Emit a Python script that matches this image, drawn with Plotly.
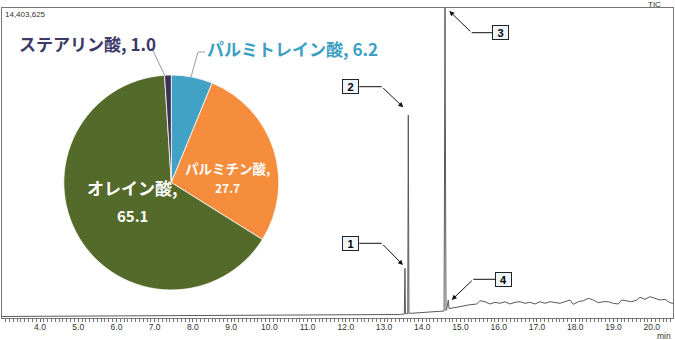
import plotly.graph_objects as go

# ---------------- data ----------------
FULL_SCALE = 14403625

time_min = [3.006, 6.0, 9.0, 12.0, 13.40, 13.53, 13.547, 13.56, 13.62, 13.634, 13.65,
            13.70, 14.0, 14.40, 14.57, 14.594, 14.62, 14.64, 14.68, 14.70,
            14.725, 14.986, 15.195, 15.423, 15.509, 15.640, 15.771, 15.902, 16.033,
            16.163, 16.294, 16.425, 16.556, 16.686, 16.817, 16.948, 17.079, 17.209,
            17.340, 17.471, 17.602, 17.733, 17.863, 17.950, 18.081, 18.212, 18.342,
            18.473, 18.604, 18.735, 18.865, 18.996, 19.127, 19.216, 19.347, 19.478,
            19.608, 19.695, 19.826, 19.956, 20.087, 20.218, 20.349, 20.479, 20.558]
tic = [70000, 93000, 102000, 139000, 163000, 186000, 2309000, 200000, 200000, 9432000, 220000,
       218000, 255000, 293000, 325000, 14403625, 350000, 418000, 836000, 441000,
       451000, 525000, 604000, 650000, 804000, 757000, 650000, 729000, 683000,
       757000, 650000, 729000, 757000, 683000, 729000, 650000, 757000, 683000,
       757000, 729000, 683000, 757000, 836000, 637000, 757000, 804000, 915000,
       836000, 711000, 757000, 757000, 683000, 650000, 836000, 804000, 757000,
       836000, 962000, 869000, 990000, 915000, 836000, 869000, 711000, 683000]

peak_labels = ["1", "2", "3", "4"]

fatty_acids = ["パルミトレイン酸", "パルミチン酸", "オレイン酸", "ステアリン酸"]
percent = [6.2, 27.7, 65.1, 1.0]
pie_colors = ["#41A2C5", "#F58D3D", "#546A2B", "#3A2F55"]

x_ticks = [4.0, 5.0, 6.0, 7.0, 8.0, 9.0, 10.0, 11.0, 12.0, 13.0, 14.0, 15.0, 16.0, 17.0, 18.0, 19.0, 20.0]

# ---------------- layout helpers (pixel -> paper) ----------------
W, H = 675, 340
L, R, T, B = 2, 673, 8, 318


def px(p):
    return (p - L) / (R - L)


def py(p):
    return (B - p) / (B - T)


JP = "Noto Sans CJK JP"
AX = "Liberation Sans"

fig = go.Figure()

fig.add_trace(go.Scatter(x=time_min, y=tic, mode="lines",
                         line=dict(color="#5a5a5a", width=1), hoverinfo="skip",
                         showlegend=False))

fig.add_trace(go.Pie(labels=fatty_acids, values=percent, sort=False,
                     direction="clockwise", rotation=0,
                     marker=dict(colors=pie_colors, line=dict(color="white", width=0.8)),
                     textinfo="none", hoverinfo="skip", showlegend=False,
                     domain=dict(x=[px(63.3), px(279.3)], y=[py(290), py(75)])))

ann = []
shapes = []

# pie labels
ann.append(dict(x=px(87), y=py(43), xref="paper", yref="paper", showarrow=False,
                text=f"<b>{fatty_acids[3]}, {percent[3]:.1f}</b>",
                font=dict(family=JP, size=17, color="#3C3868"), xanchor="center", yanchor="middle"))
ann.append(dict(x=px(292), y=py(49), xref="paper", yref="paper", showarrow=False,
                text=f"<b>{fatty_acids[0]}, {percent[0]:.1f}</b>",
                font=dict(family=JP, size=17, color="#3B9FC4"), xanchor="center", yanchor="middle"))
ann.append(dict(x=px(227), y=py(168), xref="paper", yref="paper", showarrow=False,
                text=f"<b>{fatty_acids[1]},</b>",
                font=dict(family=JP, size=13.5, color="white"), xanchor="center", yanchor="middle"))
ann.append(dict(x=px(227), y=py(188), xref="paper", yref="paper", showarrow=False,
                text=f"<b>{percent[1]:.1f}</b>",
                font=dict(family=JP, size=12, color="white"), xanchor="center", yanchor="middle"))
ann.append(dict(x=px(132), y=py(188), xref="paper", yref="paper", showarrow=False,
                text=f"<b>{fatty_acids[2]},</b>",
                font=dict(family=JP, size=17, color="white"), xanchor="center", yanchor="middle"))
ann.append(dict(x=px(132), y=py(215), xref="paper", yref="paper", showarrow=False,
                text=f"<b>{percent[2]:.1f}</b>",
                font=dict(family=JP, size=15, color="white"), xanchor="center", yanchor="middle"))

# pie leader lines
shapes.append(dict(type="path", xref="paper", yref="paper",
                   path=f"M {px(151.7)} {py(48)} L {px(165)} {py(76)}",
                   line=dict(color="#9a9a9a", width=1)))
shapes.append(dict(type="path", xref="paper", yref="paper",
                   path=f"M {px(205)} {py(52)} L {px(198)} {py(52)} L {px(191)} {py(77)}",
                   line=dict(color="#9a9a9a", width=1)))

# peak callouts: (box center, elbow, arrow head)
callouts = [
    ((350.7, 243.3), (359.3, 381.7), (403, 265)),
    ((350.7, 86.7), (359.3, 381.7), (403.3, 107.3)),
    ((500.9, 32.7), (492.7, 471.7), (449.3, 11)),
    ((503.3, 279.3), (495.7, 473.3), (451.7, 300)),
]
for lab, (c, (x1, x2), head) in zip(peak_labels, callouts):
    ann.append(dict(x=px(c[0]), y=py(c[1]), xref="paper", yref="paper", showarrow=False,
                    text=f"<b>{lab}</b>", font=dict(family=AX, size=11, color="black"),
                    bgcolor="#eef6fb", bordercolor="#222", borderwidth=1, borderpad=1,
                    width=13, height=11, xanchor="center", yanchor="middle"))
    shapes.append(dict(type="line", xref="paper", yref="paper",
                       x0=px(x1), y0=py(c[1]), x1=px(x2), y1=py(c[1]),
                       line=dict(color="#111", width=1)))
    ann.append(dict(x=px(head[0]), y=py(head[1]), xref="paper", yref="paper",
                    showarrow=True, text="", arrowhead=2, arrowsize=1, arrowwidth=1,
                    arrowcolor="#111", ax=x2 - head[0], ay=c[1] - head[1]))

# frame texts
ann.append(dict(x=px(3), y=py(14), xref="paper", yref="paper", showarrow=False,
                text=f"{FULL_SCALE:,}", font=dict(family=AX, size=8, color="#333"),
                xanchor="left", yanchor="middle"))
ann.append(dict(x=px(663), y=py(5), xref="paper", yref="paper", showarrow=False,
                text="TIC", font=dict(family=AX, size=8, color="#333"),
                xanchor="right", yanchor="middle"))
ann.append(dict(x=px(673), y=py(336), xref="paper", yref="paper", showarrow=False,
                text="min", font=dict(family=AX, size=8.5, color="#333"),
                xanchor="right", yanchor="middle"))

fig.update_layout(
    width=W, height=H,
    margin=dict(l=L, r=W - R, t=T, b=H - B, pad=0),
    paper_bgcolor="white", plot_bgcolor="white",
    annotations=ann, shapes=shapes,
    xaxis=dict(range=[3.006, 20.558], tickvals=x_ticks,
               ticktext=[f"{v:.1f}" for v in x_ticks],
               ticks="outside", ticklen=3, tickcolor="#666", tickwidth=1,
               ticklabelstandoff=-2,
               minor=dict(dtick=0.1, tick0=0, ticks="outside", ticklen=3, tickcolor="#777"),
               showline=True, linecolor="#777", linewidth=1, mirror=True,
               showgrid=False, zeroline=False,
               tickfont=dict(family=AX, size=8.5, color="#333")),
    yaxis=dict(range=[0, FULL_SCALE], showticklabels=False, ticks="",
               showline=True, linecolor="#777", linewidth=1, mirror=True,
               showgrid=False, zeroline=False),
)

fig.write_html("out.html")
